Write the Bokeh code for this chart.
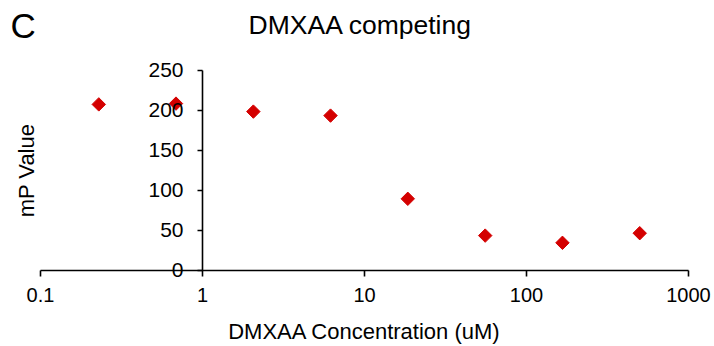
import math
from bokeh.plotting import figure
from bokeh.models import LinearAxis, LogAxis, FixedTicker, Label, ColumnDataSource, Range1d
from bokeh.embed import file_html
from bokeh.resources import INLINE

# data
concentration = [0.229, 0.686, 2.06, 6.17, 18.5, 55.6, 166.7, 500]
mp_value = [207, 208, 198, 193, 89, 43, 34, 46]
x_ticks = [0.1, 1, 10, 100, 1000]
x_tick_labels = ["0.1", "1", "10", "100", "1000"]
y_ticks = [0, 50, 100, 150, 200, 250]

FONT = "Liberation Sans"
W, H = 714, 346

# layout: pixel position of x=1 and y=0 and scale factors
X1_PX, DEC_PX = 202.0, 162.0      # px of x=1, px per decade
Y0_PX, Y_PX = 269.5, 0.8          # px of y=0, px per unit
x_start = 10 ** (-X1_PX / DEC_PX)
x_end = 10 ** ((W - X1_PX) / DEC_PX)
y_start = -(H - Y0_PX) / Y_PX
y_end = Y0_PX / Y_PX

p = figure(width=W, height=H, x_axis_type="log",
           x_range=Range1d(x_start, x_end), y_range=Range1d(y_start, y_end),
           x_axis_location=None, y_axis_location=None,
           output_backend="svg", toolbar_location=None,
           min_border=0, min_border_left=0, min_border_right=0,
           min_border_top=0, min_border_bottom=0)
p.outline_line_color = None
p.grid.visible = False
p.background_fill_color = "white"
p.border_fill_color = "white"

src = ColumnDataSource(dict(x=concentration, y=mp_value))
p.scatter("x", "y", source=src, marker="square", angle=math.pi / 4, size=9.5,
          fill_color="#d40000", line_color="#d40000")

# x axis at y = 0
xa = LogAxis(fixed_location=0, bounds=(x_ticks[0], x_ticks[-1]),
             ticker=FixedTicker(ticks=x_ticks, minor_ticks=[]))
xa.major_label_overrides = {t: l for t, l in zip(x_ticks, x_tick_labels)}
xa.axis_line_color = "black"
xa.axis_line_width = 1.6
xa.major_tick_line_color = "black"
xa.major_tick_line_width = 1.6
xa.major_tick_out = 6
xa.major_tick_in = 0
xa.minor_tick_line_color = None
xa.major_label_text_font = FONT
xa.major_label_text_font_size = "20px"
xa.major_label_text_color = "black"
xa.major_label_standoff = 12
xa.axis_label = "DMXAA Concentration (uM)"
xa.axis_label_text_font = FONT
xa.axis_label_text_font_size = "22px"
xa.axis_label_text_font_style = "normal"
xa.axis_label_text_color = "black"
xa.axis_label_standoff = 13
p.add_layout(xa, "below")

# y axis crossing at x = 1
ya = LinearAxis(fixed_location=1, bounds=(y_ticks[0], y_ticks[-1]),
                ticker=FixedTicker(ticks=y_ticks, minor_ticks=[]))
ya.axis_line_color = "black"
ya.axis_line_width = 1.6
ya.major_tick_line_color = "black"
ya.major_tick_line_width = 1.6
ya.major_tick_out = 5
ya.major_tick_in = 0
ya.minor_tick_line_color = None
ya.major_label_text_font = FONT
ya.major_label_text_font_size = "21px"
ya.major_label_text_color = "black"
ya.major_label_standoff = 14
ya.axis_label = "mP Value"
ya.axis_label_text_font = FONT
ya.axis_label_text_font_size = "22px"
ya.axis_label_text_font_style = "normal"
ya.axis_label_text_color = "black"
ya.axis_label_standoff = 106
p.add_layout(ya, "left")

title = Label(x=360, y=H - 24, x_units="screen", y_units="screen",
              text="DMXAA competing", text_align="center",
              text_baseline="alphabetic", text_font=FONT,
              text_font_size="26.5px", text_color="black")
panel = Label(x=10, y=H - 25, x_units="screen", y_units="screen",
              text="C", text_align="left", text_baseline="alphabetic",
              text_font=FONT, text_font_size="35px", text_color="black")
p.add_layout(title)
p.add_layout(panel)

open("out.html", "w").write(file_html(p, INLINE))
